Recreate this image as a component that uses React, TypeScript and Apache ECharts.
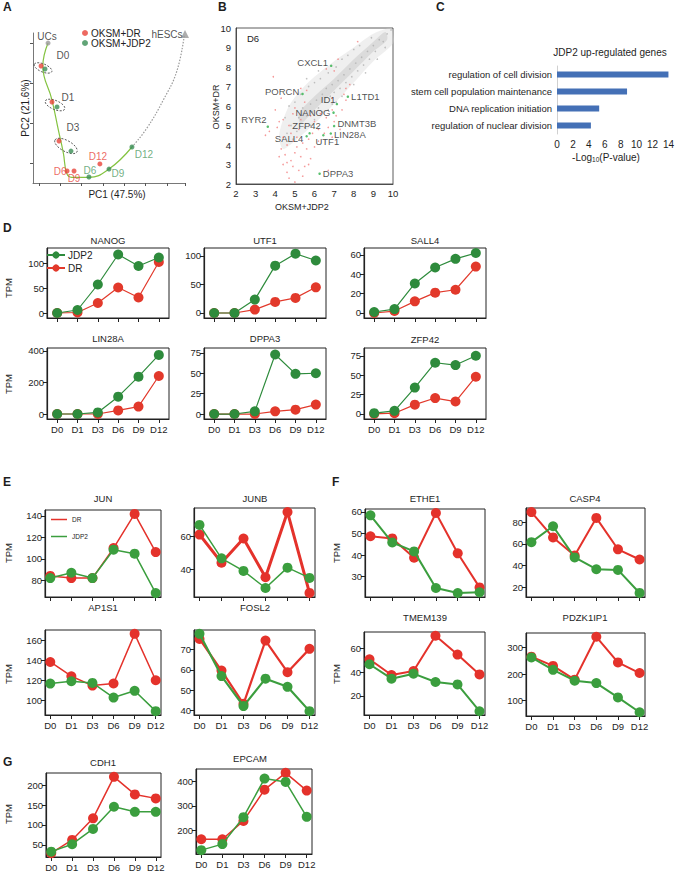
import React, { useEffect, useRef } from 'react';
import * as echarts from 'echarts';

const FONT = "'Liberation Sans', Arial, Helvetica, sans-serif";
const INK = '#1e1e1e';

// ---------------- Panel A : PCA ----------------
const drPC1 = [5.3, 12.5, 17.1, 22.4, 27, 44];
const drPC2 = [78, 54, 28, 8, 8, 12.7];
const jdpPC1 = [7.9, 15.8, 25, 36.8, 50, 65.1];
const jdpPC2 = [76, 50.7, 21.3, 4, 9.3, 24];
const refNames = ['UCs', 'hESCs'];
const refPC1 = [9.9, 100];
const refPC2 = [93.3, 99.3];
const trajGreen = [[9.9, 93.3], [6.5, 78], [12.5, 55.3], [16.7, 35.3], [20, 19.8], [22.2, 6.4], [25.4, 3.8], [36.8, 3.8], [50, 9.3], [65.1, 24]];
const trajGrey = [[65.1, 24], [74.8, 36.4], [85.7, 55.3], [94.5, 74.2], [99.5, 98.3]];
const stageNames = ['D0', 'D1', 'D3'];
const stagePC1 = [19.7, 23, 26.3];
const stagePC2 = [85.3, 57.3, 37.3];
const ellipseCenters = [[6.6, 76.7], [14.5, 52], [21.7, 24.7]];

// ---------------- Panel B : scatter D6 ----------------
const greyX = [5.2, 5.4, 5.6, 5.8, 5.9, 6.1, 6.2, 6.4, 6.5, 6.6, 6.8, 6.9, 7.0, 7.2, 7.3, 7.5, 7.6, 7.8, 7.9, 8.1, 8.2, 8.4, 8.5, 8.7, 8.8, 9.0, 9.1, 9.3, 9.5, 9.7, 9.9, 5.0, 5.3, 5.7, 6.0, 6.3, 6.7, 7.1, 7.7, 8.3, 8.9, 5.5, 6.0, 6.4, 6.9, 7.4, 8.0, 8.6, 9.2, 4.8, 4.6, 4.9, 5.1, 4.5, 4.7, 5.6, 6.2, 7.4, 8.0, 9.6, 5.8, 6.7, 7.1];
const greyY = [5.4, 5.9, 5.5, 6.1, 5.7, 6.3, 5.9, 6.6, 6.2, 6.9, 6.5, 7.1, 6.7, 7.3, 6.9, 7.6, 7.2, 7.9, 7.5, 8.2, 7.8, 8.5, 8.1, 8.8, 8.4, 9.1, 8.8, 9.4, 9.3, 9.7, 9.9, 6.2, 6.6, 7.0, 7.2, 7.4, 7.7, 8.0, 8.6, 9.1, 9.5, 4.9, 5.3, 5.7, 6.1, 6.5, 7.1, 7.7, 8.4, 5.0, 4.6, 4.3, 4.7, 5.4, 6.0, 7.4, 7.8, 8.4, 8.9, 9.0, 5.0, 5.8, 6.2];
const redX = [3.9, 4.3, 4.0, 4.2, 4.4, 4.7, 4.9, 5.3, 5.6, 5.5, 5.0, 5.3, 5.8, 6.0, 6.3, 6.6, 6.9, 7.1, 7.4, 7.6, 7.5, 7.6, 7.2, 8.2, 7.0, 6.6, 7.8, 7.0, 6.7, 6.9, 6.5, 6.2, 5.9, 5.7, 5.4, 5.1, 4.9, 4.6, 4.3, 4.5, 4.8, 5.0, 5.3, 5.6, 5.8, 5.5, 5.2, 4.9, 4.6, 4.7, 5.0, 4.4, 4.2, 5.7, 6.0, 6.2, 4.8, 5.2, 3.5, 6.7, 6.9, 7.3, 4.1, 4.6, 5.4, 5.1, 4.4, 3.7];
const redY = [7.5, 6.4, 5.8, 5.2, 5.3, 5.0, 5.6, 6.9, 6.8, 6.2, 5.9, 5.3, 5.5, 5.2, 5.6, 5.4, 5.8, 5.5, 5.8, 6.3, 6.6, 6.9, 8.4, 9.3, 7.8, 7.9, 7.1, 5.2, 4.9, 4.4, 4.6, 4.8, 4.6, 4.3, 4.1, 4.4, 4.2, 4.0, 3.8, 3.5, 3.2, 3.6, 3.4, 3.8, 3.3, 2.9, 2.7, 2.9, 2.6, 2.3, 2.1, 3.0, 3.4, 3.0, 3.9, 4.2, 4.6, 4.8, 4.5, 2.7, 6.4, 4.8, 4.9, 3.1, 2.4, 3.9, 4.4, 4.7];
const geneNames = ['CXCL1', 'PORCN', 'ID1', 'L1TD1', 'NANOG', 'DNMT3B', 'LIN28A', 'ZFP42', 'SALL4', 'UTF1', 'RYR2', 'DPPA3'];
const geneX = [6.85, 5.39, 7.14, 7.7, 6.97, 7.0, 6.83, 5.75, 5.6, 6.45, 3.62, 6.26];
const geneY = [8.06, 6.62, 6.1, 6.48, 5.66, 4.97, 4.59, 4.6, 4.45, 4.5, 4.94, 2.53];
const cloudOuter = [[4.2, 4.5], [4.6, 5.8], [5.2, 6.7], [6, 7.5], [7, 8.3], [8, 9.0], [9, 9.7], [9.9, 10], [10, 9.7], [10, 9.2], [9, 8.3], [8, 7.2], [7, 6.1], [6, 5.1], [5, 4.2], [4.4, 3.8]];
const cloudInner = [[5.2, 5.6], [6, 6.5], [7, 7.4], [8, 8.4], [9, 9.3], [9.6, 9.8], [9.7, 9.4], [9, 8.8], [8, 7.8], [7, 6.8], [6, 5.8], [5.3, 5.1]];

// ---------------- Panel C : GO terms ----------------
const goTerms = ['regulation of cell division', 'stem cell population maintenance', 'DNA replication initiation', 'regulation of nuclear division'];
const goValues = [14.0, 8.8, 5.3, 4.26];

// ---------------- Panels D-G : time courses ----------------
const days = ['D0', 'D1', 'D3', 'D6', 'D9', 'D12'];
const nanogJDP2 = [0, 6, 57, 117, 94, 111];
const nanogDR = [0, 1, 20, 51, 31, 102];
const utf1JDP2 = [0, 0, 23.5, 83, 104, 92];
const utf1DR = [0, 0, 6, 19.4, 26.5, 45];
const sall4JDP2 = [1, 4, 30.5, 47, 56, 62];
const sall4DR = [0, 2, 12, 21, 24, 48];
const lin28aJDP2 = [0, 0, 10, 110, 237, 375];
const lin28aDR = [0, 0, 0, 23, 47, 241];
const dppa3JDP2 = [0, 0, 3.3, 73, 49.3, 50];
const dppa3DR = [0, 0, 0, 3.3, 5.4, 11.6];
const zfp42JDP2 = [1, 4, 34, 66, 63, 75];
const zfp42DR = [0, 1, 12, 20.5, 16, 48];

const junDR = [84, 82, 82, 110, 141.9, 106.3];
const junJDP2 = [82, 87, 82, 108.5, 104.8, 68];
const junbDR = [61, 44, 58.6, 35.2, 74.6, 25.7];
const junbJDP2 = [66.8, 46.6, 39, 28.7, 41, 34.8];
const ap1s1DR = [138.3, 124, 114.6, 116.7, 166.5, 120];
const ap1s1JDP2 = [116.6, 119, 117.3, 102.6, 109.4, 89];
const fosl2DR = [75.3, 59.7, 43.3, 74.5, 58.9, 70.4];
const fosl2JDP2 = [77.8, 57, 42.2, 55.7, 51.7, 39.7];

const ethe1DR = [48.7, 47.7, 38.8, 59.5, 40.8, 25];
const ethe1JDP2 = [58.4, 45.8, 41.7, 24.7, 22.4, 22.7];
const casp4DR = [89.4, 66, 49.2, 84, 55, 45.6];
const casp4JDP2 = [61.6, 76.3, 47.5, 36.6, 36, 14.7];
const tmem139DR = [50.7, 37.5, 40.8, 70.4, 54.6, 38];
const tmem139JDP2 = [46.5, 34.4, 38.6, 31.6, 29.6, 7.1];
const pdzk1ip1DR = [266, 231, 179, 341, 244, 204];
const pdzk1ip1JDP2 = [263, 216, 175, 166, 112, 56];

const cdh1DR = [29.2, 62.5, 116.7, 220.8, 176.7, 166.7];
const cdh1JDP2 = [33, 51.7, 90, 145.8, 133, 133];
const epcamDR = [163.6, 163.6, 238.3, 365.8, 434.4, 362];
const epcamJDP2 = [119, 143.6, 253.5, 411, 397.5, 255];

const D_GREEN = '#2e8b3c';
const D_RED = '#e2392b';
const E_GREEN = '#3b9e3e';
const E_RED = '#e4322b';

function buildOption() {
  const titles: any[] = [];
  const grids: any[] = [];
  const xAxes: any[] = [];
  const yAxes: any[] = [];
  const series: any[] = [];
  const graphics: any[] = [];

  const addTitle = (text: string, x: number, y: number, size = 9.5, bold = false, align = 'center') => {
    titles.push({
      text, left: x, top: y, textAlign: align, padding: 0,
      textStyle: { fontSize: size, fontWeight: bold ? 'bold' : 'normal', color: INK, fontFamily: FONT },
    });
  };
  const addText = (text: string, x: number, y: number, size: number, rot = 0) => {
    graphics.push({
      type: 'text', x, y, rotation: rot,
      style: { text, fill: INK, fontSize: size, fontFamily: FONT, align: 'center', verticalAlign: 'middle', textAlign: 'center', textVerticalAlign: 'middle' },
    });
  };

  // panel letters
  addTitle('A', 3, 1, 12, true, 'left');
  addTitle('B', 218, 1, 12, true, 'left');
  addTitle('C', 436, 1, 12, true, 'left');
  addTitle('D', 3, 222, 12, true, 'left');
  addTitle('E', 3, 476, 12, true, 'left');
  addTitle('F', 332, 476, 12, true, 'left');
  addTitle('G', 3, 756, 12, true, 'left');

  // ----- Panel A -----
  const gA = grids.length;
  grids.push({ left: 33, top: 33, width: 152, height: 150, show: false });
  xAxes.push({
    gridIndex: gA, type: 'value', min: 0, max: 100,
    axisLine: { show: true, onZero: false, lineStyle: { color: '#555', width: 0.8 } },
    axisTick: { show: true, customValues: [4, 18, 32, 46, 60, 74, 88, 100], length: 3, lineStyle: { color: '#555' } },
    axisLabel: { show: false }, splitLine: { show: false },
  });
  yAxes.push({
    gridIndex: gA, type: 'value', min: 0, max: 100,
    axisLine: { show: true, onZero: false, lineStyle: { color: '#555', width: 0.8 } },
    axisTick: { show: true, customValues: [13.3, 40, 66.7, 93.3], length: 3, lineStyle: { color: '#555' } },
    axisLabel: { show: false }, splitLine: { show: false },
  });
  series.push({
    type: 'line', xAxisIndex: gA, yAxisIndex: gA, data: trajGreen, smooth: 0.45, symbol: 'none',
    lineStyle: { color: '#84c341', width: 1.2 }, silent: true, z: 2,
  });
  series.push({
    type: 'line', xAxisIndex: gA, yAxisIndex: gA, data: trajGrey, smooth: 0.45, symbol: 'none',
    lineStyle: { color: '#9a9a9a', width: 1.2, type: [1.5, 1.5] }, silent: true, z: 2,
  });
  const ellipseSize = [[9.5, 4, -0.4], [10.5, 4.5, -0.4], [12.5, 5.5, -0.5]];
  series.push({
    type: 'custom', xAxisIndex: gA, yAxisIndex: gA, silent: true, z: 3,
    data: ellipseCenters,
    renderItem: (params: any, api: any) => {
      const c = api.coord([api.value(0), api.value(1)]);
      const s = ellipseSize[params.dataIndex];
      return {
        type: 'ellipse', x: c[0], y: c[1], rotation: s[2],
        shape: { cx: 0, cy: 0, rx: s[0], ry: s[1] },
        style: { fill: 'none', stroke: '#444', lineWidth: 0.8, lineDash: [2, 1.5] },
      };
    },
  });
  const drLabelOff: any = { 3: [-7, 0], 4: [0, 7], 5: [-2, -7] };
  const jdpLabelOff: any = { 3: [1, -7], 4: [9, 4], 5: [12, 7] };
  series.push({
    type: 'scatter', name: 'OKSM+DR', xAxisIndex: gA, yAxisIndex: gA, symbolSize: 5, z: 5,
    itemStyle: { color: '#e8433a' },
    data: drPC1.map((v, i) => ({
      value: [v, drPC2[i]], name: days[i],
      label: drLabelOff[i] ? { show: true, formatter: days[i], position: 'inside', offset: drLabelOff[i], color: '#e8433a', fontSize: 10, fontFamily: FONT } : { show: false },
    })),
  });
  series.push({
    type: 'scatter', name: 'OKSM+JDP2', xAxisIndex: gA, yAxisIndex: gA, symbolSize: 5, z: 5,
    itemStyle: { color: '#3a8d55' },
    data: jdpPC1.map((v, i) => ({
      value: [v, jdpPC2[i]], name: days[i],
      label: jdpLabelOff[i] ? { show: true, formatter: days[i], position: 'inside', offset: jdpLabelOff[i], color: '#4e9a62', fontSize: 10, fontFamily: FONT } : { show: false },
    })),
  });
  series.push({
    type: 'scatter', xAxisIndex: gA, yAxisIndex: gA, z: 5,
    data: refPC1.map((v, i) => ({
      value: [v, refPC2[i]], name: refNames[i],
      symbol: i === 0 ? 'circle' : 'triangle', symbolSize: i === 0 ? 5 : 8,
      label: { show: true, formatter: refNames[i], position: 'inside', offset: i === 0 ? [-1, -7] : [-18, 0], color: INK, fontSize: 10, fontFamily: FONT },
    })),
    itemStyle: { color: '#999' },
  });
  series.push({
    type: 'scatter', xAxisIndex: gA, yAxisIndex: gA, symbolSize: 0, z: 5, silent: true,
    data: stagePC1.map((v, i) => ({ value: [v, stagePC2[i]], name: stageNames[i] })),
    label: { show: true, formatter: (p: any) => p.name, position: 'inside', color: INK, fontSize: 10, fontFamily: FONT },
  });
  addText('PC1 (47.5%)', 117, 194, 10);
  addText('PC2 (21.6%)', 25, 108, 10, Math.PI / 2);

  // ----- Panel B -----
  const gB = grids.length;
  grids.push({ left: 236, top: 28, width: 157, height: 156, show: true, borderColor: '#333', borderWidth: 0.8 });
  const bAxis = (isX: boolean) => ({
    gridIndex: gB, type: 'value', min: 2, max: 10, interval: 1,
    axisLine: { show: true, onZero: false, lineStyle: { color: '#333', width: 0.8 } },
    axisTick: { show: false },
    axisLabel: { fontSize: 9.5, color: INK, fontFamily: FONT, margin: isX ? 4 : 5 },
    splitLine: { show: false },
  });
  xAxes.push(bAxis(true));
  yAxes.push(bAxis(false));
  const clouds = [cloudOuter, cloudInner];
  const cloudFill = ['rgba(215,215,215,0.4)', 'rgba(190,190,190,0.4)'];
  series.push({
    type: 'custom', xAxisIndex: gB, yAxisIndex: gB, silent: true, z: 1,
    data: [[6, 6], [7, 7]],
    renderItem: (params: any, api: any) => ({
      type: 'polygon',
      shape: { points: clouds[params.dataIndex].map((p) => api.coord(p)), smooth: 0.3 },
      style: { fill: cloudFill[params.dataIndex] },
    }),
  });
  series.push({
    type: 'scatter', xAxisIndex: gB, yAxisIndex: gB, symbolSize: 1.6, silent: true, z: 2,
    itemStyle: { color: '#b0b0b0' },
    data: greyX.map((v, i) => [v, greyY[i]]),
  });
  series.push({
    type: 'scatter', xAxisIndex: gB, yAxisIndex: gB, symbolSize: 1.6, silent: true, z: 3,
    itemStyle: { color: '#f28080' },
    data: redX.map((v, i) => [v, redY[i]]),
  });
  const genePos: any = {
    CXCL1: ['left', [0, -3]], PORCN: ['left', [0, -2]], ID1: ['left', [2, -5]], L1TD1: ['right', [0, 0]],
    NANOG: ['left', [0, 0]], DNMT3B: ['right', [0, -3]], LIN28A: ['right', [0, 1]], ZFP42: ['top', [-3, 0]],
    SALL4: ['left', [0, 2]], UTF1: ['bottom', [4, -2]], RYR2: ['left', [2, -7]], DPPA3: ['right', [0, 0]],
  };
  series.push({
    type: 'scatter', xAxisIndex: gB, yAxisIndex: gB, symbolSize: 2.5, z: 4,
    itemStyle: { color: '#2fb04a' },
    data: geneX.map((v, i) => ({
      value: [v, geneY[i]], name: geneNames[i],
      label: { show: true, formatter: geneNames[i], position: genePos[geneNames[i]][0], offset: genePos[geneNames[i]][1], distance: 2, color: INK, fontSize: 9.5, fontFamily: FONT },
    })),
  });
  addText('D6', 253, 38, 9.5);
  addText('OKSM+JDP2', 302, 207, 9);
  addText('OKSM+DR', 216, 107, 9, Math.PI / 2);

  // ----- Panel C -----
  const gC = grids.length;
  grids.push({ left: 557, top: 66, width: 116, height: 68, show: false });
  xAxes.push({
    gridIndex: gC, type: 'value', min: 0, max: 14, interval: 2,
    axisLine: { show: false }, axisTick: { show: false }, splitLine: { show: false },
    axisLabel: { fontSize: 10, color: INK, fontFamily: FONT, margin: 5 },
  });
  yAxes.push({
    gridIndex: gC, type: 'category', data: goTerms, inverse: true,
    axisLine: { show: true, lineStyle: { color: '#d0d0d0', width: 1 } },
    axisTick: { show: false },
    axisLabel: { fontSize: 9.5, color: INK, fontFamily: FONT, margin: 5 },
  });
  series.push({
    type: 'bar', xAxisIndex: gC, yAxisIndex: gC, data: goValues, barWidth: 6,
    itemStyle: { color: '#4470b6' },
  });
  addTitle('JDP2 up-regulated genes', 610, 47, 10);
  titles.push({
    text: '-Log{s|10}(P-value)', left: 606, top: 151, textAlign: 'center', padding: 0,
    textStyle: {
      fontSize: 10, fontWeight: 'normal', color: INK, fontFamily: FONT,
      rich: { s: { fontSize: 6.5, fontWeight: 'normal', color: INK, fontFamily: FONT, verticalAlign: 'bottom', padding: [5, 0, 0, 0] } },
    },
  });

  // ----- small time-course plots -----
  const smallPlot = (o: any) => {
    const g = grids.length;
    grids.push({ left: o.l, top: o.t, width: o.r - o.l, height: o.b - o.t, show: true, borderColor: '#222', borderWidth: 1 });
    let ymin = o.ymin, ymax = o.ymax;
    if (ymin === undefined) {
      const lo = Math.min(...o.dr, ...o.jdp), hi = Math.max(...o.dr, ...o.jdp);
      ymin = lo - 0.05 * (hi - lo);
      ymax = hi + 0.05 * (hi - lo);
    }
    xAxes.push({
      gridIndex: g, type: 'value', min: -o.pad, max: 5 + o.pad,
      axisLine: { show: true, onZero: false, lineStyle: { color: '#222', width: 1.2 } },
      axisTick: { show: true, customValues: [0, 1, 2, 3, 4, 5], length: 4, lineStyle: { color: '#222', width: 1 } },
      axisLabel: { show: !!o.showX, customValues: [0, 1, 2, 3, 4, 5], formatter: (v: number) => days[Math.round(v)], fontSize: 9.5, color: INK, fontFamily: FONT, margin: 5 },
      splitLine: { show: false },
    });
    yAxes.push({
      gridIndex: g, type: 'value', min: ymin, max: ymax,
      axisLine: { show: true, onZero: false, lineStyle: { color: '#222', width: 1.2 } },
      axisTick: { show: true, customValues: o.yticks, length: 4, lineStyle: { color: '#222', width: 1 } },
      axisLabel: { customValues: o.yticks, fontSize: 9.5, color: INK, fontFamily: FONT, margin: 3 },
      splitLine: { show: false },
    });
    series.push({
      type: 'line', name: o.names[0], xAxisIndex: g, yAxisIndex: g, data: o.dr.map((v: number, i: number) => [i, v]),
      symbol: 'circle', symbolSize: 10, color: o.red, lineStyle: { color: o.red, width: o.drLw }, itemStyle: { color: o.red }, z: 3,
    });
    series.push({
      type: 'line', name: o.names[1], xAxisIndex: g, yAxisIndex: g, data: o.jdp.map((v: number, i: number) => [i, v]),
      symbol: 'circle', symbolSize: 10, color: o.green, lineStyle: { color: o.green, width: o.jdpLw }, itemStyle: { color: o.green }, z: 4,
    });
    addTitle(o.title, o.tx, o.ty - 6, 9.5);
  };

  const dNames = ['DR', 'JDP2'];
  const dBase = { pad: 0.5, red: D_RED, green: D_GREEN, drLw: 1.2, jdpLw: 1.2, names: dNames };
  smallPlot({ ...dBase, title: 'NANOG', tx: 108, ty: 241, l: 47, r: 169, t: 248, b: 318, ymin: -10, ymax: 130, yticks: [0, 50, 100], dr: nanogDR, jdp: nanogJDP2 });
  smallPlot({ ...dBase, title: 'UTF1', tx: 265, ty: 241, l: 204, r: 326, t: 248, b: 318, ymin: -8.8, ymax: 114, yticks: [0, 50, 100], dr: utf1DR, jdp: utf1JDP2 });
  smallPlot({ ...dBase, title: 'SALL4', tx: 425, ty: 241, l: 364, r: 486, t: 248, b: 318, ymin: -5.2, ymax: 67.2, yticks: [0, 20, 40, 60], dr: sall4DR, jdp: sall4JDP2 });
  smallPlot({ ...dBase, title: 'LIN28A', tx: 108, ty: 339, l: 47, r: 169, t: 348, b: 419, ymin: -31.7, ymax: 419, yticks: [0, 200, 400], dr: lin28aDR, jdp: lin28aJDP2, showX: true });
  smallPlot({ ...dBase, title: 'DPPA3', tx: 265, ty: 339, l: 204, r: 326, t: 348, b: 419, ymin: -6.1, ymax: 81, yticks: [0, 25, 50, 75], dr: dppa3DR, jdp: dppa3JDP2, showX: true });
  smallPlot({ ...dBase, title: 'ZFP42', tx: 425, ty: 340, l: 364, r: 486, t: 348, b: 419, ymin: -6.5, ymax: 85, yticks: [0, 25, 50, 75], dr: zfp42DR, jdp: zfp42JDP2, showX: true });

  const eNames = ['DR_e', 'JDP2_e'];
  const eBase = { pad: 0.25, red: E_RED, green: E_GREEN, names: eNames };
  smallPlot({ ...eBase, title: 'JUN', tx: 103, ty: 499, l: 45, r: 161, t: 510, b: 597, yticks: [80, 100, 120, 140], dr: junDR, jdp: junJDP2, drLw: 1.5, jdpLw: 1.5 });
  smallPlot({ ...eBase, title: 'JUNB', tx: 255, ty: 499, l: 194, r: 315, t: 508, b: 597, yticks: [40, 60], dr: junbDR, jdp: junbJDP2, drLw: 3, jdpLw: 1.5 });
  smallPlot({ ...eBase, title: 'AP1S1', tx: 103, ty: 608, l: 45, r: 161, t: 630, b: 715, yticks: [100, 120, 140, 160], dr: ap1s1DR, jdp: ap1s1JDP2, drLw: 1.5, jdpLw: 1.5, showX: true });
  smallPlot({ ...eBase, title: 'FOSL2', tx: 255, ty: 608, l: 194, r: 315, t: 630, b: 715, yticks: [40, 50, 60, 70], dr: fosl2DR, jdp: fosl2JDP2, drLw: 2.2, jdpLw: 2.2, showX: true });
  smallPlot({ ...eBase, title: 'ETHE1', tx: 425, ty: 499, l: 365, r: 485, t: 509, b: 597, yticks: [30, 40, 50, 60], dr: ethe1DR, jdp: ethe1JDP2, drLw: 2, jdpLw: 2 });
  smallPlot({ ...eBase, title: 'CASP4', tx: 585, ty: 499, l: 526, r: 645, t: 508, b: 597, yticks: [20, 40, 60, 80], dr: casp4DR, jdp: casp4JDP2, drLw: 2, jdpLw: 2 });
  smallPlot({ ...eBase, title: 'TMEM139', tx: 425, ty: 618, l: 364, r: 485, t: 632, b: 715, yticks: [20, 40, 60], dr: tmem139DR, jdp: tmem139JDP2, drLw: 2, jdpLw: 2, showX: true });
  smallPlot({ ...eBase, title: 'PDZK1IP1', tx: 585, ty: 618, l: 526, r: 645, t: 633, b: 716, yticks: [100, 200, 300], dr: pdzk1ip1DR, jdp: pdzk1ip1JDP2, drLw: 2, jdpLw: 2, showX: true });
  smallPlot({ ...eBase, title: 'CDH1', tx: 103, ty: 763, l: 46, r: 161, t: 773, b: 857, yticks: [50, 100, 150, 200], dr: cdh1DR, jdp: cdh1JDP2, drLw: 1.5, jdpLw: 1.5, showX: true });
  smallPlot({ ...eBase, title: 'EPCAM', tx: 250, ty: 759, l: 196, r: 312, t: 769, b: 854, yticks: [200, 300, 400], dr: epcamDR, jdp: epcamJDP2, drLw: 1.5, jdpLw: 1.5, showX: true });

  // TPM labels
  addText('TPM', 8, 288, 9.5, Math.PI / 2);
  addText('TPM', 8, 384, 9.5, Math.PI / 2);
  addText('TPM', 8, 553, 9.5, Math.PI / 2);
  addText('TPM', 8, 674, 9.5, Math.PI / 2);
  addText('TPM', 336, 553, 9.5, Math.PI / 2);
  addText('TPM', 336, 674, 9.5, Math.PI / 2);
  addText('TPM', 8, 814, 9.5, Math.PI / 2);

  const legends = [
    {
      data: ['OKSM+DR', 'OKSM+JDP2'], left: 82, top: 28, orient: 'vertical', icon: 'circle',
      itemWidth: 6, itemHeight: 6, itemGap: 0, padding: 0, selectedMode: false,
      textStyle: { fontSize: 10, color: INK, fontFamily: FONT, lineHeight: 10, padding: [0, 0, 0, -2] },
    },
    {
      data: ['JDP2', 'DR'], left: 46, top: 250, orient: 'vertical',
      itemWidth: 18, itemHeight: 9, itemGap: 3, padding: 0, selectedMode: false,
      textStyle: { fontSize: 10, color: INK, fontFamily: FONT, padding: [0, 0, 0, -2] },
    },
    {
      data: [{ name: 'DR_e', icon: 'rect' }, { name: 'JDP2_e', icon: 'rect' }], left: 51, top: 516, orient: 'vertical',
      itemWidth: 16, itemHeight: 1.5, itemGap: 10, padding: 0, selectedMode: false,
      formatter: (n: string) => n.replace('_e', ''),
      textStyle: { fontSize: 6.5, color: INK, fontFamily: FONT },
    },
  ];

  return {
    animation: false,
    backgroundColor: '#ffffff',
    textStyle: { fontFamily: FONT },
    title: titles,
    legend: legends,
    grid: grids,
    xAxis: xAxes,
    yAxis: yAxes,
    series,
    graphic: graphics,
  };
}

export default function App() {
  const ref = useRef<HTMLDivElement>(null);
  useEffect(() => {
    if (!ref.current) return;
    const chart = echarts.init(ref.current, undefined, { renderer: 'svg' });
    chart.setOption(buildOption() as any);
    return () => chart.dispose();
  }, []);
  return <div ref={ref} style={{ position: 'fixed', left: 0, top: 0, width: 677, height: 877, background: '#fff' }} />;
}
